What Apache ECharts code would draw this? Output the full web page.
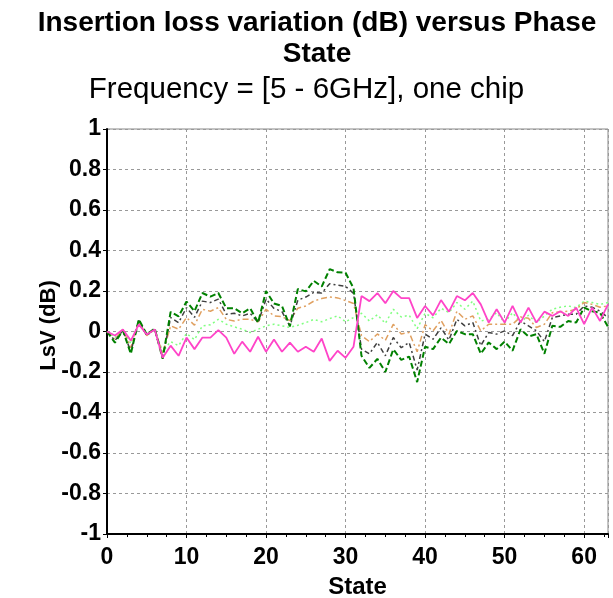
<!DOCTYPE html>
<html>
<head>
<meta charset="utf-8">
<script src="https://cdn.jsdelivr.net/npm/echarts@6/dist/echarts.min.js"></script>
<style>html,body{margin:0;padding:0;background:#fff}#c{width:613px;height:598px}</style>
</head>
<body>
<div id="c"></div>
<script>
var states = [];
for (var s = 0; s <= 63; s++) states.push(s);

var magenta = [0,-0.02,0.01,-0.045,0.035,-0.015,0.01,-0.13,-0.07,-0.12,-0.03,-0.087,-0.03,-0.03,0.007,-0.03,-0.11,-0.05,-0.10,-0.026,-0.10,-0.04,-0.10,-0.055,-0.10,-0.075,-0.10,-0.035,-0.145,-0.095,-0.13,-0.075,0.175,0.15,0.19,0.14,0.20,0.165,0.165,0.067,0.126,0.08,0.155,0.098,0.175,0.154,0.19,0.134,0.044,0.11,0.044,0.126,0.044,0.118,0.044,0.098,0.077,0.10,0.077,0.118,0.036,0.118,0.052,0.134];

var lightGreen = [0,-0.03,0.01,-0.06,0.045,-0.01,0.01,-0.1,-0.05,-0.07,-0.01,-0.04,0.028,0.033,0.06,0.036,0.023,0.011,-0.005,0.011,0.028,0.036,0.028,0.02,0.031,0.044,0.06,0.048,0.064,0.077,0.048,0.069,0.09,0.052,0.083,0.04,0.11,0.072,0.08,0.014,0.09,0.068,0.115,0.093,0.143,0.11,0.15,0.052,0.06,0.093,0.044,0.093,0.044,0.08,0.044,0.077,0.11,0.12,0.126,0.118,0.15,0.143,0.134,0.143];

var orange = [0,-0.04,0.01,-0.08,0.05,-0.02,0.01,-0.11,0.028,0.011,0.069,0.031,0.11,0.10,0.118,0.06,0.052,0.06,0.06,0.048,0.11,0.077,0.073,0.054,0.115,0.126,0.15,0.163,0.171,0.166,0.153,0.138,-0.02,-0.05,-0.012,-0.044,0.036,-0.012,-0.005,-0.10,0.034,0.003,0.055,-0.013,0.1,0.06,0.077,0.003,0.036,0.036,0.036,0.036,0.072,0.065,0.02,0.036,0.093,0.098,0.1,0.11,0.143,0.134,0.12,0.126];

var darkGray = [0,-0.045,0.005,-0.10,0.055,-0.02,0.01,-0.13,0.069,0.044,0.118,0.07,0.15,0.143,0.16,0.085,0.09,0.077,0.09,0.044,0.16,0.114,0.098,0.026,0.155,0.17,0.193,0.19,0.236,0.229,0.223,0.188,-0.087,-0.11,-0.054,-0.12,-0.03,-0.08,-0.054,-0.19,-0.013,-0.038,0.018,-0.042,0.06,0.028,0.044,-0.07,-0.005,-0.013,0.003,-0.02,0.052,0.028,0.003,-0.05,0.069,0.077,0.085,0.085,0.126,0.12,0.1,0.069];

var darkGreen = [0,-0.055,0.005,-0.11,0.06,-0.015,0.015,-0.135,0.097,0.075,0.148,0.10,0.19,0.172,0.19,0.115,0.115,0.09,0.115,0.044,0.2,0.138,0.126,0.026,0.21,0.198,0.25,0.222,0.308,0.292,0.29,0.214,-0.12,-0.18,-0.135,-0.2,-0.088,-0.14,-0.124,-0.25,-0.075,-0.087,-0.03,-0.062,0.003,-0.013,-0.013,-0.11,-0.054,-0.087,-0.05,-0.095,0.011,-0.025,-0.013,-0.11,0.028,0.023,0.052,0.044,0.118,0.1,0.093,0.023];

function pairs(arr) { return states.map(function (x, i) { return [x, arr[i]]; }); }

var FONT = '"Liberation Sans", Arial, sans-serif';
var chart = echarts.init(document.getElementById('c'), null, {renderer: 'canvas'});

function line(name, data, color, type, width) {
  return {
    name: name, type: 'line', data: pairs(data), showSymbol: false, symbol: 'none',
    lineStyle: {color: color, type: type, width: width}, animation: false, z: 3
  };
}

chart.setOption({
  animation: false,
  backgroundColor: '#fff',
  title: [{
    text: 'Insertion loss variation (dB) versus Phase\nState',
    left: 312, textAlign: 'center', top: 3,
    textStyle: {fontFamily: FONT, fontSize: 28, fontWeight: 'bold', color: '#000', lineHeight: 31}
  }, {
    text: 'Frequency = [5 - 6GHz], one chip',
    left: 'center', top: 70,
    textStyle: {fontFamily: FONT, fontSize: 29.5, fontWeight: 'normal', color: '#000'}
  }],
  grid: {left: 107, right: 5, top: 129, bottom: 64, show: true, borderColor: '#888', borderWidth: 1,
    containLabel: false, outerBoundsMode: 'none'},
  xAxis: {
    type: 'value', min: 0, max: 63, interval: 10,
    name: 'State', nameLocation: 'middle', nameGap: 41, nameMoveOverlap: false,
    nameTextStyle: {fontFamily: FONT, fontSize: 24, fontWeight: 'bold', color: '#000'},
    axisLine: {show: true, onZero: false, lineStyle: {color: '#000', width: 2}},
    axisTick: {show: true, length: 4, lineStyle: {color: '#000'}},
    minorTick: {show: true, splitNumber: 4, length: 3, lineStyle: {color: '#000'}},
    axisLabel: {fontFamily: FONT, fontSize: 23, fontWeight: 'bold', color: '#000', margin: 12,
      formatter: function (v) { return v % 10 === 0 ? String(v) : ''; }},
    splitLine: {show: true, lineStyle: {color: '#999', type: [3, 3], width: 1}}
  },
  yAxis: {
    type: 'value', min: -1, max: 1, interval: 0.2,
    name: 'LsV (dB)', nameLocation: 'middle', nameGap: 47, nameMoveOverlap: false,
    nameTextStyle: {fontFamily: FONT, fontSize: 22, fontWeight: 'bold', color: '#000', padding: [0, 0, 0, 12]},
    axisLine: {show: true, lineStyle: {color: '#000', width: 2}},
    axisTick: {show: true, length: 4, lineStyle: {color: '#000'}},
    axisLabel: {fontFamily: FONT, fontSize: 23, fontWeight: 'bold', color: '#000', margin: 6,
      formatter: function (v) { return String(Math.round(v * 10) / 10); }},
    splitLine: {show: true, lineStyle: {color: '#999', type: [3, 3], width: 1}}
  },
  series: [
    line('lightgreen', lightGreen, '#80ff80', [2, 3], 1.5),
    line('orange', orange, '#e0a060', [6, 3, 2, 3], 1.5),
    line('darkgray', darkGray, '#404040', [5, 3, 2, 3], 1.5),
    line('darkgreen', darkGreen, '#008000', [6, 3], 2),
    line('magenta', magenta, '#ff44c8', 'solid', 1.8)
  ]
});
</script>
</body>
</html>
